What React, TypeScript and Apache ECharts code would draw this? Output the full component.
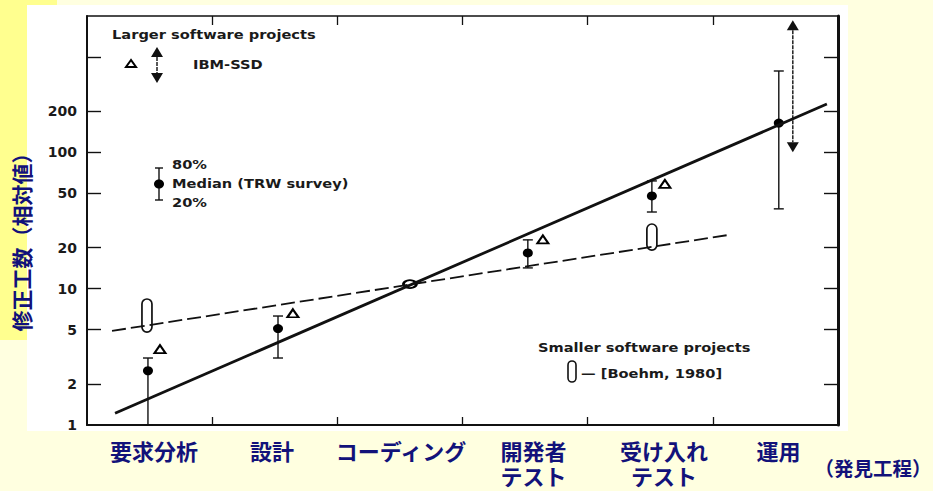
import React, { useEffect, useRef } from 'react';
import * as echarts from 'echarts';

// Phases in which a defect is found (x axis is 0..6, one unit per phase)
const phaseLabels = ['要求分析', '設計', 'コーディング', '開発者\nテスト', '受け入れ\nテスト', '運用'];
const phaseLabelPos = [0.535, 1.478, 2.509, 3.567, 4.61, 5.525];
const phaseTicks = [1, 2, 3, 4, 5];

// Relative fix effort, log scale
const yTickValues = [2, 5, 10, 20, 50, 100, 200, 500];
const yLabelValues = [1, 2, 5, 10, 20, 50, 100, 200];

// TRW survey: 20% / median / 80%
const trwX = [0.487, 1.526, 3.522, 4.513, 5.527];
const trwLow = [1, 3.1, 14.2, 36.5, 38.5];
const trwMedian = [2.5, 5.1, 18.3, 47.9, 164];
const trwHigh = [3.1, 6.3, 22.8, 61.7, 395];

// IBM-SSD
const ibmX = [0.583, 1.645, 3.642, 4.617];
const ibmY = [3.6, 6.6, 23, 58.7];
const ibmRangeX = [5.639];
const ibmRangeLow = [100];
const ibmRangeHigh = [930];

// Smaller software projects [Boehm, 1980]
const boehmX = [0.479, 4.513];
const boehmLow = [4.8, 19.2];
const boehmHigh = [8.4, 29.8];

// Trend lines
const largerTrendX = [0.224, 5.911];
const largerTrendY = [1.22, 226];
const smallerTrendX = [0.2, 5.128];
const smallerTrendY = [4.9, 24.8];

// Common normalisation point at coding
const codingPoint = [2.58, 10.8];

const NAVY = '#12127a';
const INK = '#111111';
const NOTE_FONT = 'DejaVu Sans';

function phaseLabelFor(v: number): string {
  for (let i = 0; i < phaseLabelPos.length; i++) {
    if (Math.abs(phaseLabelPos[i] - v) < 1e-6) return phaseLabels[i];
  }
  return '';
}

function note(text: string, x: number, y: number) {
  return {
    type: 'text',
    x,
    y,
    scaleX: 1.17,
    z: 10,
    style: {
      text,
      fill: '#1a1a1a',
      fontSize: 12.5,
      fontWeight: 'bold',
      fontFamily: NOTE_FONT,
      align: 'left',
      verticalAlign: 'middle',
      textAlign: 'left',
      textVerticalAlign: 'middle',
    },
  };
}

function doubleArrow(cx: number, yTop: number, yBot: number) {
  const head = 10;
  const half = 6;
  return [
    {
      type: 'line',
      shape: { x1: cx, y1: yTop + head, x2: cx, y2: yBot - head },
      style: { stroke: INK, lineWidth: 1.4, lineDash: [4, 1] },
    },
    {
      type: 'polygon',
      shape: { points: [[cx, yTop], [cx - half, yTop + head], [cx + half, yTop + head]] },
      style: { fill: INK },
    },
    {
      type: 'polygon',
      shape: { points: [[cx, yBot], [cx - half, yBot - head], [cx + half, yBot - head]] },
      style: { fill: INK },
    },
  ];
}

export default function App() {
  const ref = useRef<HTMLDivElement>(null);

  useEffect(() => {
    if (!ref.current) return;
    const chart = echarts.init(ref.current, undefined, { renderer: 'svg' });

    const axisLineStyle = (w: number) => ({ onZero: false, lineStyle: { color: INK, width: w } });

    const option: any = {
      animation: false,
      backgroundColor: 'transparent',
      grid: { left: 87, right: 95, top: 16, bottom: 66 },
      xAxis: [
        {
          type: 'value',
          position: 'bottom',
          min: 0,
          max: 6,
          interval: 1,
          axisLine: axisLineStyle(2),
          axisTick: { inside: true, length: 8, customValues: phaseTicks, lineStyle: { color: INK, width: 1.3 } },
          axisLabel: {
            customValues: phaseLabelPos,
            formatter: (v: number) => phaseLabelFor(v),
            margin: 12,
            color: NAVY,
            fontSize: 22,
            fontWeight: 'bold',
            fontFamily: 'Noto Sans CJK JP',
            lineHeight: 25,
          },
          splitLine: { show: false },
        },
        {
          type: 'value',
          position: 'top',
          min: 0,
          max: 6,
          interval: 1,
          axisLine: axisLineStyle(1.6),
          axisTick: { inside: true, length: 9, customValues: phaseTicks, lineStyle: { color: INK, width: 1.3 } },
          axisLabel: { show: false },
          splitLine: { show: false },
        },
      ],
      yAxis: [
        {
          type: 'log',
          logBase: 10,
          position: 'left',
          min: 1,
          max: 1000,
          axisLine: axisLineStyle(2),
          axisTick: { inside: true, length: 14, customValues: yTickValues, lineStyle: { color: INK, width: 1.4 } },
          axisLabel: {
            customValues: yLabelValues,
            margin: 10,
            color: '#1a1a1a',
            fontSize: 14,
            fontWeight: 'bold',
            fontFamily: NOTE_FONT,
          },
          splitLine: { show: false },
        },
        {
          type: 'log',
          logBase: 10,
          position: 'right',
          min: 1,
          max: 1000,
          axisLine: axisLineStyle(3),
          axisTick: { inside: true, length: 14, customValues: yTickValues, lineStyle: { color: INK, width: 1.4 } },
          axisLabel: { show: false },
          splitLine: { show: false },
        },
      ],
      series: [
        {
          name: 'larger trend',
          type: 'line',
          data: largerTrendX.map((x, i) => [x, largerTrendY[i]]),
          symbol: 'none',
          lineStyle: { color: INK, width: 2.8 },
        },
        {
          name: 'smaller trend',
          type: 'line',
          data: smallerTrendX.map((x, i) => [x, smallerTrendY[i]]),
          symbol: 'none',
          lineStyle: { color: INK, width: 1.8, type: [14, 5] },
        },
        {
          name: 'TRW range',
          type: 'custom',
          data: trwX.map((x, i) => [x, trwLow[i], trwHigh[i]]),
          encode: { x: 0, y: [1, 2] },
          renderItem: (_p: any, api: any) => {
            const x = api.value(0);
            const lo = api.coord([x, api.value(1)]);
            const hi = api.coord([x, api.value(2)]);
            const w = 5;
            const st = { stroke: INK, lineWidth: 1.4 };
            return {
              type: 'group',
              children: [
                { type: 'line', shape: { x1: lo[0], y1: lo[1], x2: hi[0], y2: hi[1] }, style: st },
                { type: 'line', shape: { x1: hi[0] - w, y1: hi[1], x2: hi[0] + w, y2: hi[1] }, style: st },
                { type: 'line', shape: { x1: lo[0] - w, y1: lo[1], x2: lo[0] + w, y2: lo[1] }, style: st },
              ],
            };
          },
        },
        {
          name: 'Boehm 1980',
          type: 'custom',
          data: boehmX.map((x, i) => [x, boehmLow[i], boehmHigh[i]]),
          encode: { x: 0, y: [1, 2] },
          renderItem: (_p: any, api: any) => {
            const x = api.value(0);
            const lo = api.coord([x, api.value(1)]);
            const hi = api.coord([x, api.value(2)]);
            return {
              type: 'rect',
              shape: { x: hi[0] - 5, y: hi[1], width: 10, height: lo[1] - hi[1], r: 5 },
              style: { fill: '#fff', stroke: INK, lineWidth: 1.7 },
              z2: 5,
            };
          },
        },
        {
          name: 'IBM-SSD range',
          type: 'custom',
          data: ibmRangeX.map((x, i) => [x, ibmRangeLow[i], ibmRangeHigh[i]]),
          encode: { x: 0, y: [1, 2] },
          renderItem: (_p: any, api: any) => {
            const x = api.value(0);
            const lo = api.coord([x, api.value(1)]);
            const hi = api.coord([x, api.value(2)]);
            return { type: 'group', children: doubleArrow(lo[0], hi[1], lo[1]) };
          },
        },
        {
          name: 'IBM-SSD',
          type: 'scatter',
          data: ibmX.map((x, i) => [x, ibmY[i]]),
          symbol: 'triangle',
          symbolSize: [11, 8],
          itemStyle: { color: '#fff', borderColor: '#000', borderWidth: 2, opacity: 1 },
        },
        {
          name: 'TRW median',
          type: 'scatter',
          data: trwX.map((x, i) => [x, trwMedian[i]]),
          symbol: 'circle',
          symbolSize: [10, 9],
          itemStyle: { color: '#000', opacity: 1 },
        },
        {
          name: 'coding',
          type: 'scatter',
          data: [codingPoint],
          symbol: 'circle',
          symbolSize: [13, 8],
          itemStyle: { color: '#fff', borderColor: '#000', borderWidth: 2.2, opacity: 1 },
        },
      ],
      graphic: [
        // legend: larger projects
        note('Larger software projects', 112, 34),
        {
          type: 'polygon',
          z: 10,
          shape: { points: [[131, 60], [126, 67], [136, 67]] },
          style: { fill: '#fff', stroke: '#000', lineWidth: 2 },
        },
        { type: 'group', z: 10, children: doubleArrow(157, 47, 83) },
        note('IBM-SSD', 193, 64),
        // legend: TRW survey
        {
          type: 'group',
          z: 10,
          children: [
            { type: 'line', shape: { x1: 159, y1: 168, x2: 159, y2: 200 }, style: { stroke: INK, lineWidth: 1.4 } },
            { type: 'line', shape: { x1: 155, y1: 168, x2: 163, y2: 168 }, style: { stroke: INK, lineWidth: 1.4 } },
            { type: 'line', shape: { x1: 155, y1: 200, x2: 163, y2: 200 }, style: { stroke: INK, lineWidth: 1.4 } },
            { type: 'ellipse', shape: { cx: 159, cy: 184, rx: 5, ry: 4.5 }, style: { fill: '#000' } },
          ],
        },
        note('80%', 172, 164),
        note('Median (TRW survey)', 172, 183),
        note('20%', 172, 202),
        // legend: smaller projects
        note('Smaller software projects', 538, 347),
        {
          type: 'rect',
          z: 10,
          shape: { x: 568, y: 361, width: 8, height: 21, r: 4 },
          style: { fill: '#fff', stroke: INK, lineWidth: 1.6 },
        },
        note('— [Boehm, 1980]', 581, 373),
        // axis titles
        {
          type: 'text',
          x: 21,
          y: 237,
          rotation: Math.PI / 2,
          z: 10,
          style: {
            text: '修正工数（相対値）',
            fill: NAVY,
            fontSize: 21,
            fontWeight: 'bold',
            fontFamily: 'Noto Sans CJK JP',
            align: 'center',
            verticalAlign: 'middle',
            textAlign: 'center',
            textVerticalAlign: 'middle',
          },
        },
        {
          type: 'text',
          x: 873,
          y: 467,
          z: 10,
          style: {
            text: '（発見工程）',
            fill: NAVY,
            fontSize: 19.5,
            fontWeight: 'bold',
            fontFamily: 'Noto Sans CJK JP',
            align: 'center',
            verticalAlign: 'middle',
            textAlign: 'center',
            textVerticalAlign: 'middle',
          },
        },
      ],
    };

    chart.setOption(option);
    return () => chart.dispose();
  }, []);

  return (
    <div style={{ position: 'fixed', left: 0, top: 0, width: 933, height: 491, background: '#FFFFE0', overflow: 'hidden' }}>
      <div style={{ position: 'absolute', left: 0, top: 0, width: 57, height: 5, background: '#FFFF8F' }} />
      <div style={{ position: 'absolute', left: 0, top: 0, width: 27, height: 340, background: '#FFFF8F' }} />
      <div style={{ position: 'absolute', left: 27, top: 5, width: 821, height: 426, background: '#FFFFFF' }} />
      <div ref={ref} style={{ position: 'absolute', left: 0, top: 0, width: 933, height: 491 }} />
    </div>
  );
}
